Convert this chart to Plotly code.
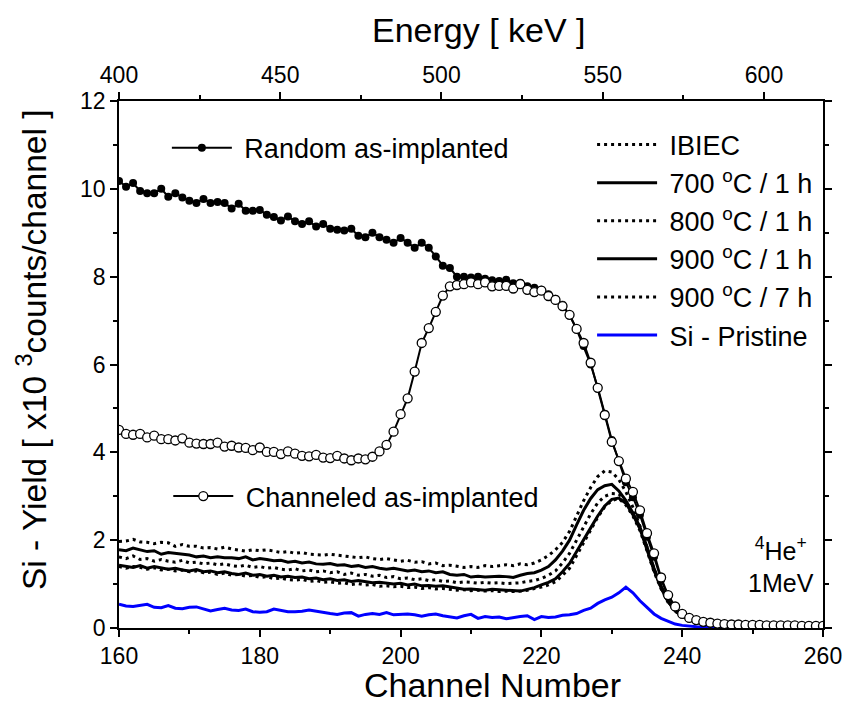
import plotly.graph_objects as go

channels = list(range(160, 261))

random_imp = [10.18, 10.05, 10.13, 9.95, 9.90, 9.90, 10.00, 9.82, 9.90, 9.80,
              9.73, 9.68, 9.77, 9.68, 9.70, 9.68, 9.55, 9.66, 9.50, 9.50,
              9.52, 9.41, 9.36, 9.28, 9.37, 9.26, 9.20, 9.26, 9.14, 9.20,
              9.09, 9.07, 9.05, 9.09, 8.93, 8.90, 9.00, 8.90, 8.84, 8.77,
              8.88, 8.77, 8.66, 8.77, 8.66, 8.46, 8.25, 8.20, 8.00, 8.00,
              7.98, 8.00, 7.95, 7.92, 7.90, 7.93, 7.85, 7.86, 7.78, 7.75,
              7.70, 7.60, 7.50, 7.36, 7.12, 6.80, 6.42, 6.00, 5.48, 4.88,
              4.28, 3.80, 3.32, 2.98, 2.58, 2.08, 1.62, 1.10, 0.72, 0.47,
              0.31, 0.22, 0.17, 0.13, 0.11, 0.10, 0.09, 0.08, 0.08, 0.07,
              0.07, 0.07, 0.06, 0.06, 0.06, 0.06, 0.06, 0.06, 0.06, 0.06, 0.06]

channeled_imp = [4.51, 4.42, 4.40, 4.42, 4.34, 4.38, 4.30, 4.30, 4.27, 4.32,
                 4.22, 4.20, 4.19, 4.19, 4.22, 4.13, 4.15, 4.11, 4.10, 4.05,
                 4.11, 4.01, 4.01, 3.96, 4.02, 3.97, 3.92, 3.91, 3.94, 3.88,
                 3.87, 3.92, 3.86, 3.82, 3.86, 3.84, 3.90, 4.02, 4.17, 4.47,
                 4.87, 5.23, 5.84, 6.49, 6.83, 7.20, 7.57, 7.78, 7.81, 7.83,
                 7.87, 7.83, 7.87, 7.78, 7.79, 7.79, 7.73, 7.83, 7.70, 7.65,
                 7.68, 7.56, 7.47, 7.33, 7.13, 6.81, 6.49, 6.04, 5.47, 4.85,
                 4.24, 3.80, 3.40, 3.10, 2.68, 2.16, 1.70, 1.15, 0.75, 0.49,
                 0.32, 0.23, 0.18, 0.14, 0.12, 0.10, 0.09, 0.08, 0.08, 0.07,
                 0.07, 0.07, 0.06, 0.06, 0.06, 0.06, 0.06, 0.05, 0.05, 0.05, 0.05]

ibiec = [1.97, 1.98, 2.02, 1.96, 1.95, 1.92, 1.95, 1.94, 1.86, 1.90,
         1.86, 1.86, 1.82, 1.83, 1.80, 1.84, 1.80, 1.78, 1.75, 1.78,
         1.76, 1.78, 1.75, 1.72, 1.74, 1.70, 1.72, 1.68, 1.67, 1.66,
         1.68, 1.66, 1.65, 1.62, 1.60, 1.62, 1.58, 1.56, 1.58, 1.55,
         1.52, 1.54, 1.50, 1.51, 1.46, 1.48, 1.42, 1.43, 1.40, 1.38,
         1.40, 1.38, 1.42, 1.40, 1.42, 1.44, 1.42, 1.46, 1.44, 1.48,
         1.55, 1.65, 1.78, 1.95, 2.20, 2.55, 2.90, 3.20, 3.45, 3.58,
         3.55, 3.38, 3.10, 2.75, 2.32, 1.84, 1.34, 0.92, 0.60, 0.40,
         0.27, 0.19, 0.14, 0.10, 0.08, 0.06, 0.05, 0.04, 0.04, 0.03,
         0.03, 0.03, 0.03, 0.03, 0.03, 0.03, 0.03, 0.03, 0.03, 0.03, 0.03]

ann_700_1h = [1.78, 1.76, 1.82, 1.78, 1.74, 1.76, 1.68, 1.72, 1.70, 1.68,
              1.66, 1.62, 1.64, 1.60, 1.62, 1.60, 1.60, 1.58, 1.62, 1.55,
              1.58, 1.56, 1.53, 1.54, 1.50, 1.52, 1.48, 1.50, 1.46, 1.45,
              1.47, 1.43, 1.44, 1.40, 1.42, 1.38, 1.40, 1.36, 1.34, 1.36,
              1.33, 1.30, 1.32, 1.28, 1.30, 1.26, 1.28, 1.22, 1.20, 1.22,
              1.16, 1.18, 1.16, 1.17, 1.18, 1.17, 1.15, 1.20, 1.24, 1.26,
              1.32, 1.40, 1.55, 1.75, 2.00, 2.35, 2.68, 2.95, 3.15, 3.24,
              3.27, 3.12, 2.90, 2.62, 2.30, 1.85, 1.36, 0.95, 0.62, 0.41,
              0.28, 0.20, 0.15, 0.11, 0.08, 0.06, 0.05, 0.04, 0.04, 0.03,
              0.03, 0.03, 0.03, 0.03, 0.03, 0.03, 0.03, 0.03, 0.03, 0.03, 0.03]

ann_800_1h = [1.62, 1.58, 1.64, 1.56, 1.58, 1.52, 1.56, 1.52, 1.50, 1.54,
              1.48, 1.50, 1.46, 1.48, 1.44, 1.46, 1.42, 1.40, 1.43, 1.38,
              1.40, 1.36, 1.38, 1.34, 1.32, 1.35, 1.30, 1.32, 1.28, 1.30,
              1.26, 1.28, 1.22, 1.25, 1.20, 1.22, 1.18, 1.20, 1.15, 1.17,
              1.12, 1.14, 1.10, 1.12, 1.08, 1.10, 1.06, 1.07, 1.03, 1.05,
              1.04, 1.02, 1.04, 1.02, 1.03, 1.01, 1.02, 1.03, 1.06, 1.08,
              1.13, 1.20, 1.30, 1.48, 1.70, 2.00, 2.32, 2.60, 2.85, 3.00,
              3.06, 3.05, 2.88, 2.60, 2.28, 1.82, 1.33, 0.93, 0.61, 0.40,
              0.27, 0.19, 0.14, 0.10, 0.08, 0.06, 0.05, 0.04, 0.04, 0.03,
              0.03, 0.03, 0.03, 0.03, 0.03, 0.03, 0.03, 0.03, 0.03, 0.03, 0.03]

ann_900_1h = [1.43, 1.40, 1.38, 1.42, 1.36, 1.40, 1.37, 1.34, 1.36, 1.32,
              1.30, 1.33, 1.28, 1.30, 1.26, 1.28, 1.24, 1.22, 1.25, 1.20,
              1.22, 1.18, 1.20, 1.16, 1.18, 1.15, 1.16, 1.12, 1.14, 1.10,
              1.12, 1.08, 1.10, 1.06, 1.08, 1.05, 1.03, 1.04, 1.02, 1.00,
              1.02, 0.98, 1.00, 0.96, 0.97, 0.95, 0.96, 0.93, 0.90, 0.88,
              0.89, 0.87, 0.86, 0.88, 0.87, 0.86, 0.85, 0.84, 0.88, 0.92,
              0.98, 1.04, 1.12, 1.28, 1.47, 1.75, 2.02, 2.28, 2.55, 2.78,
              2.93, 2.96, 2.84, 2.58, 2.26, 1.80, 1.31, 0.92, 0.60, 0.40,
              0.27, 0.19, 0.14, 0.10, 0.08, 0.06, 0.05, 0.04, 0.04, 0.03,
              0.03, 0.03, 0.03, 0.03, 0.03, 0.03, 0.03, 0.03, 0.03, 0.03, 0.03]

ann_900_7h = [1.40, 1.36, 1.40, 1.38, 1.34, 1.37, 1.32, 1.34, 1.30, 1.32,
              1.28, 1.30, 1.26, 1.27, 1.22, 1.25, 1.20, 1.22, 1.18, 1.20,
              1.15, 1.17, 1.12, 1.14, 1.10, 1.09, 1.11, 1.06, 1.08, 1.04,
              1.05, 1.02, 1.03, 0.99, 1.01, 0.98, 0.99, 0.95, 0.96, 0.94,
              0.95, 0.92, 0.93, 0.90, 0.92, 0.89, 0.90, 0.88, 0.86, 0.87,
              0.85, 0.86, 0.84, 0.85, 0.83, 0.84, 0.83, 0.84, 0.86, 0.90,
              0.93, 0.98, 1.05, 1.20, 1.36, 1.65, 1.95, 2.25, 2.52, 2.76,
              2.90, 2.95, 2.80, 2.55, 2.22, 1.76, 1.28, 0.89, 0.58, 0.38,
              0.26, 0.18, 0.13, 0.10, 0.07, 0.06, 0.05, 0.04, 0.03, 0.03,
              0.03, 0.03, 0.03, 0.03, 0.03, 0.03, 0.03, 0.03, 0.03, 0.03, 0.03]

si_pristine = [0.54, 0.50, 0.49, 0.52, 0.54, 0.47, 0.46, 0.51, 0.45, 0.44,
               0.47, 0.48, 0.43, 0.39, 0.42, 0.45, 0.41, 0.40, 0.43, 0.37,
               0.36, 0.37, 0.43, 0.40, 0.37, 0.37, 0.38, 0.41, 0.38, 0.36,
               0.33, 0.31, 0.34, 0.35, 0.27, 0.31, 0.33, 0.31, 0.35, 0.30,
               0.31, 0.32, 0.30, 0.27, 0.30, 0.32, 0.28, 0.26, 0.23, 0.28,
               0.31, 0.22, 0.26, 0.24, 0.25, 0.21, 0.24, 0.26, 0.28, 0.19,
               0.26, 0.24, 0.25, 0.29, 0.30, 0.33, 0.40, 0.45, 0.56, 0.64,
               0.70, 0.80, 0.93, 0.80, 0.62, 0.47, 0.32, 0.22, 0.15, 0.09,
               0.06, 0.04, 0.03, 0.02, 0.02, 0.02, 0.01, 0.01, 0.01, 0.01,
               0.01, 0.01, 0.01, 0.01, 0.01, 0.01, 0.01, 0.01, 0.01, 0.01, 0.01]

energy_range = [400, 618.3]

FONT = "Liberation Sans, Arial, sans-serif"
DOT = "3px,4px"

fig = go.Figure()

annealed = [
    ("&nbsp;IBIEC", ibiec, DOT),
    ("&nbsp;700 <sup>o</sup>C / 1 h", ann_700_1h, "solid"),
    ("&nbsp;800 <sup>o</sup>C / 1 h", ann_800_1h, DOT),
    ("&nbsp;900 <sup>o</sup>C / 1 h", ann_900_1h, "solid"),
    ("&nbsp;900 <sup>o</sup>C / 7 h", ann_900_7h, DOT),
]
for name, vals, dash in annealed:
    fig.add_trace(go.Scatter(x=channels, y=vals, mode="lines", name=name,
                             line=dict(color="black", width=3, dash=dash),
                             legend="legend"))

fig.add_trace(go.Scatter(x=channels, y=si_pristine, mode="lines", name="&nbsp;Si - Pristine",
                         line=dict(color="#0000ff", width=3), legend="legend"))

fig.add_trace(go.Scatter(x=channels, y=random_imp, mode="lines+markers",
                         name="&nbsp;Random as-implanted",
                         line=dict(color="black", width=2),
                         marker=dict(symbol="circle", size=8, color="black"),
                         legend="legend2"))

fig.add_trace(go.Scatter(x=channels, y=channeled_imp, mode="lines+markers",
                         name="&nbsp;Channeled as-implanted",
                         line=dict(color="black", width=2),
                         marker=dict(symbol="circle", size=9, color="white",
                                     line=dict(color="black", width=1.3)),
                         legend="legend3"))

# helper trace so that the top energy axis is drawn
fig.add_trace(go.Scatter(x=energy_range, y=[None, None], xaxis="x2", mode="lines",
                         showlegend=False, hoverinfo="skip"))

axis_common = dict(showline=True, linecolor="black", linewidth=1.5,
                   ticks="outside", ticklen=7, tickwidth=1.5, tickcolor="black",
                   showgrid=False, zeroline=False, ticklabeloverflow="allow",
                   tickfont=dict(family=FONT, size=23, color="black"))
minor_common = dict(ticks="outside", ticklen=4, tickwidth=1.5, tickcolor="black")

fig.update_layout(
    width=846, height=713,
    paper_bgcolor="white", plot_bgcolor="white",
    margin=dict(l=119, r=23, t=101, b=85, autoexpand=False),
    font=dict(family=FONT, color="black"),
    xaxis=dict(range=[160, 260], dtick=20, tick0=160,
               minor=dict(dtick=10, **minor_common), **axis_common),
    xaxis2=dict(range=energy_range, overlaying="x", side="top", anchor="y",
                dtick=50, tick0=400,
                minor=dict(dtick=25, **minor_common), **axis_common),
    yaxis=dict(range=[0, 12], dtick=2, tick0=0, mirror="ticks",
               minor=dict(dtick=1, **minor_common), **axis_common),
    legend=dict(x=0.672, y=0.963, xanchor="left", yanchor="top",
                bgcolor="rgba(0,0,0,0)", borderwidth=0, itemwidth=60,
                font=dict(family=FONT, size=27, color="black")),
    legend2=dict(x=0.068, y=0.957, xanchor="left", yanchor="top",
                 bgcolor="rgba(0,0,0,0)", borderwidth=0, itemwidth=60,
                 font=dict(family=FONT, size=27, color="black")),
    legend3=dict(x=0.070, y=0.296, xanchor="left", yanchor="top",
                 bgcolor="rgba(0,0,0,0)", borderwidth=0, itemwidth=60,
                 font=dict(family=FONT, size=27, color="black")),
    annotations=[
        dict(text="<sup>4</sup>He<sup>+</sup><br>1MeV", xref="paper", yref="paper",
             x=0.94, y=0.12, xanchor="center", yanchor="middle", showarrow=False,
             font=dict(family=FONT, size=25, color="black")),
        dict(text="Channel Number", xref="paper", yref="paper",
             x=0.530, y=-0.109, xanchor="center", yanchor="middle", showarrow=False,
             font=dict(family=FONT, size=34, color="black")),
        dict(text="Energy [ keV ]", xref="paper", yref="paper",
             x=0.511, y=1.135, xanchor="center", yanchor="middle", showarrow=False,
             font=dict(family=FONT, size=34, color="black")),
        dict(text="Si - Yield [ x10 <sup>3</sup>counts/channel ]", xref="paper", yref="paper",
             x=-0.1236, y=0.5275, xanchor="center", yanchor="middle", showarrow=False,
             textangle=-90, font=dict(family=FONT, size=33.5, color="black")),
    ],
)

fig.write_html("out.html", config={"displayModeBar": False},
               post_script="document.body.style.margin='0';document.body.style.overflow='hidden';")
